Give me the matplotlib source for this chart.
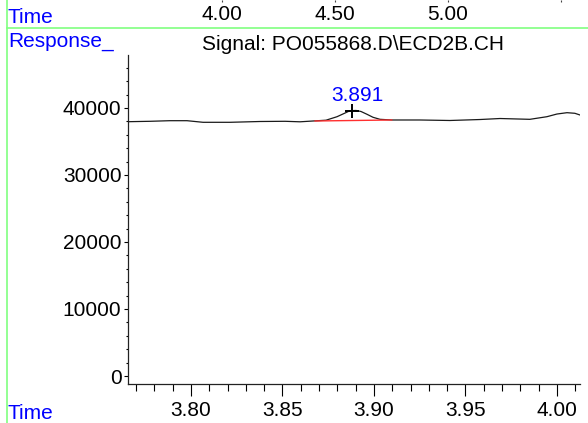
import matplotlib
matplotlib.use("Agg")
import matplotlib.pyplot as plt
from matplotlib.ticker import MultipleLocator, FormatStrFormatter
from matplotlib.lines import Line2D

plt.rcParams['font.family'] = ['Liberation Sans', 'DejaVu Sans']

# ---- data ----
time = [3.7656, 3.7776, 3.7885, 3.7978, 3.8066, 3.8213, 3.8377, 3.8514, 3.8596,
        3.8667, 3.8738, 3.8798, 3.8842, 3.8869, 3.8902, 3.8929, 3.8962, 3.8995,
        3.9033, 3.9098, 3.9251, 3.9415, 3.9579, 3.9689, 3.9852, 3.9945, 4.0000,
        4.0055, 4.0098, 4.0126]
response = [37955, 38015, 38105, 38105, 37865, 37865, 37985, 38015, 37940,
            38060, 38180, 38700, 39250, 39600, 39630, 39480, 39060, 38610,
            38310, 38210, 38210, 38135, 38280, 38430, 38310, 38700, 39100,
            39300, 39210, 38955]
baseline_t = [3.8678, 3.9097]
baseline_r = [38060, 38210]
peak_rt = 3.891
peak_apex = (3.8878, 39550)
peak_label = "3.891"
title = "Signal: PO055868.D\\ECD2B.CH"
overview_ticks = [4.00, 4.50, 5.00, 5.50]
overview_labels = ["4.00", "4.50", "5.00", ""]

W, H = 588, 423
fig = plt.figure(figsize=(W / 100, H / 100), dpi=100)

def fx(px):
    return px / W

def fy(py):
    return 1 - py / H

FS = 15
BLUE = '#0000ff'
GREEN = '#80ff80'

# ---- main axes ----
ax = fig.add_axes([fx(127.7), fy(384), fx(580) - fx(127.7), fy(55) - fy(384)])
ax.plot(time, response, color='#1a1a1a', lw=0.9)
ax.plot(baseline_t, baseline_r, color='#ff3030', lw=1.0)
ax.plot([peak_apex[0]], [peak_apex[1]], marker='+', color='black', ms=10, mew=1.4)
ax.text(peak_rt, 40400, peak_label, color=BLUE, fontsize=FS, ha='center', va='bottom')

ax.set_xlim(3.7654, 4.0126)
ax.set_ylim(-1194, 47910)
for s in ('top', 'right'):
    ax.spines[s].set_visible(False)
for s in ('left', 'bottom'):
    ax.spines[s].set_linewidth(0.9)
    ax.spines[s].set_color('#222222')

ax.xaxis.set_major_locator(MultipleLocator(0.05))
ax.xaxis.set_minor_locator(MultipleLocator(0.01))
ax.xaxis.set_major_formatter(FormatStrFormatter('%.2f'))
ax.yaxis.set_major_locator(MultipleLocator(10000))
ax.yaxis.set_minor_locator(MultipleLocator(2000))
ax.yaxis.set_major_formatter(FormatStrFormatter('%d'))
ax.tick_params(axis='x', which='major', direction='out', length=8.5, width=0.8, pad=3.5, labelsize=FS)
ax.tick_params(axis='x', which='minor', direction='out', length=5, width=0.8)
ax.tick_params(axis='y', which='major', direction='out', length=3, width=0.8, pad=1.5, labelsize=FS)
ax.tick_params(axis='y', which='minor', direction='out', length=1.5, width=0.8)

# ---- overview strip at top ----
axt = fig.add_axes([0, fy(28), 1, fy(0) - fy(28)])
axt.set_xlim(4.0 - 222 / 226, 4.0 + (W - 222) / 226)
axt.set_ylim(28, 0)
axt.axis('off')
axt.vlines(overview_ticks, 0, 2.5, color='#444444', lw=0.8)
for t, lab in zip(overview_ticks, overview_labels):
    axt.text(t, 20, lab, fontsize=FS, ha='center', va='baseline', color='black')

# ---- frame lines and labels ----
fig.add_artist(Line2D([fx(6.7), 1], [fy(28), fy(28)], color=GREEN, lw=1.2))
fig.add_artist(Line2D([fx(6.7), fx(6.7)], [0, 1], color=GREEN, lw=1.2))
fig.text(fx(8), fy(23), "Time", color=BLUE, fontsize=FS, ha='left', va='baseline')
fig.text(fx(8), fy(47), "Response_", color=BLUE, fontsize=FS, ha='left', va='baseline')
fig.text(fx(353), fy(50), title, color='black', fontsize=FS, ha='center', va='baseline')
fig.text(fx(8), fy(419), "Time", color=BLUE, fontsize=FS, ha='left', va='baseline')

fig.savefig("out.png", dpi=100)
